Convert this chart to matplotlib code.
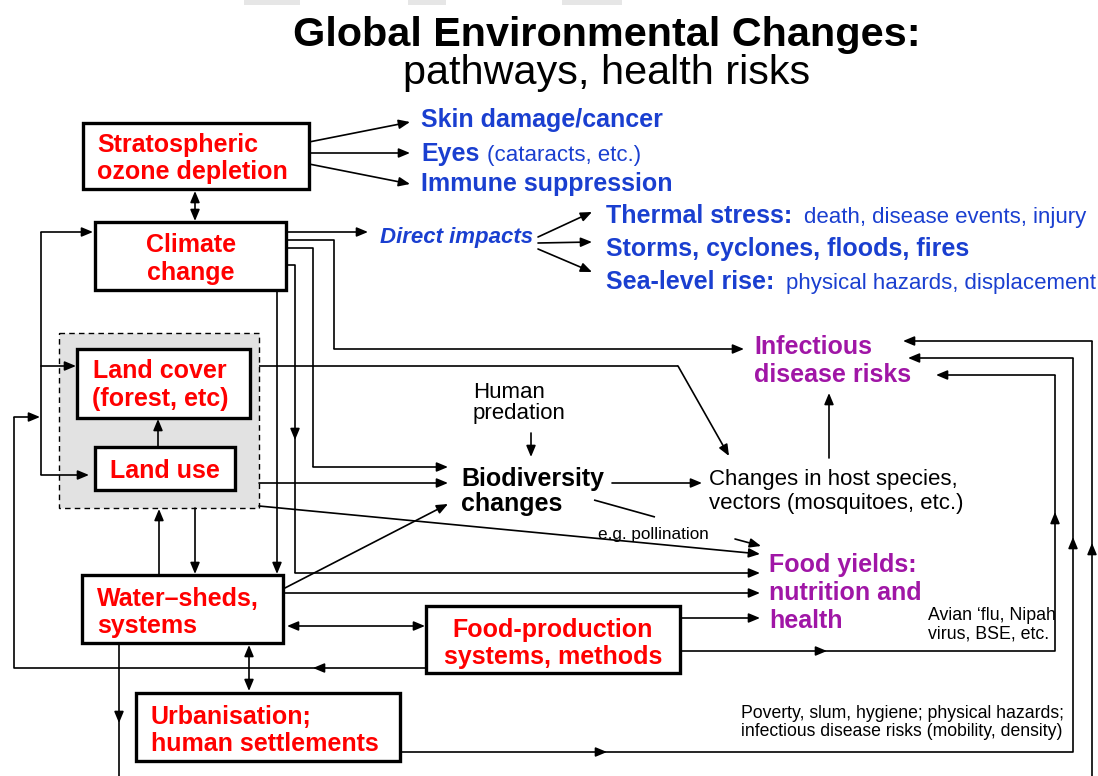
import matplotlib
matplotlib.use('Agg')
import matplotlib.pyplot as plt
from matplotlib.patches import Rectangle

plt.rcParams['font.family'] = ['Liberation Sans', 'DejaVu Sans']

# -------------------------------------------------------------------------------
# Diagram content
# -------------------------------------------------------------------------------
title_lines = ['Global Environmental Changes:', 'pathways, health risks']

driver_labels = ['Stratospheric\nozone depletion', 'Climate\nchange', 'Land cover\n(forest, etc)',
                 'Land use', 'Water\u2013sheds,\nsystems', 'Food-production\nsystems, methods',
                 'Urbanisation;\nhuman settlements']

ozone_effects = ['Skin damage/cancer', 'Eyes', 'Immune suppression']
ozone_notes = ['', '(cataracts, etc.)', '']

direct_label = 'Direct impacts'
direct_effects = ['Thermal stress:', 'Storms, cyclones, floods, fires', 'Sea-level rise:']
direct_notes = ['death, disease events, injury', '', 'physical hazards, displacement']

outcome_labels = ['Infectious\ndisease risks', 'Food yields:\nnutrition and\nhealth']
middle_labels = ['Biodiversity\nchanges', 'Changes in host species,\nvectors (mosquitoes, etc.)',
                 'Human\npredation', 'e.g. pollination']
side_notes = ['Avian \u2018flu, Nipah\nvirus, BSE, etc.',
              'Poverty, slum, hygiene; physical hazards;\ninfectious disease risks (mobility, density)']

RED = '#ff0000'
BLUE = '#1a3fd0'
PURPLE = '#a016a6'
LW = 1.2
DY = 2  # text baseline nudge


# -------------------------------------------------------------------------------
# Helpers (pixel coordinates, y pointing down)
# -------------------------------------------------------------------------------
def arrow_props(style='-|>'):
    return dict(arrowstyle=style + ',head_length=0.48,head_width=0.2', color='black',
                lw=LW, shrinkA=0, shrinkB=0, mutation_scale=14)


def path(ax, pts, arrow=True):
    xs = [p[0] for p in pts]
    ys = [p[1] for p in pts]
    if arrow:
        ax.plot(xs[:-1], ys[:-1], color='black', lw=LW, solid_capstyle='butt')
        ax.annotate('', xy=pts[-1], xytext=pts[-2], arrowprops=arrow_props())
    else:
        ax.plot(xs, ys, color='black', lw=LW, solid_capstyle='butt')


def both(ax, p0, p1):
    ax.annotate('', xy=p1, xytext=p0, arrowprops=arrow_props('<|-|>'))


def head(ax, x, y, dx, dy):
    ax.annotate('', xy=(x, y), xytext=(x - dx * 10, y - dy * 10), arrowprops=arrow_props())


def box(ax, x0, y0, x1, y1):
    ax.add_patch(Rectangle((x0, y0), x1 - x0, y1 - y0, fc='white', ec='black', lw=2.4, zorder=2))


def lines(ax, x, ys, label, **kw):
    for y, s in zip(ys, label.split('\n')):
        ax.text(x, y + DY, s, va='center', zorder=3, **kw)


fig = plt.figure(figsize=(10.98, 7.76), dpi=100)
ax = fig.add_axes([0, 0, 1, 1])
ax.set_xlim(0, 1098)
ax.set_ylim(776, 0)
ax.axis('off')

# faint shapes cut off at the top edge
for x0, x1 in [(244, 300), (408, 446), (562, 622)]:
    ax.add_patch(Rectangle((x0, 0), x1 - x0, 5, fc='#e6e6e6', ec='none'))

# title
ax.text(607, 35, title_lines[0], ha='center', va='center', fontsize=29.8, fontweight='bold')
ax.text(607, 73, title_lines[1], ha='center', va='center', fontsize=29.8)

# grey land group
ax.add_patch(Rectangle((59, 333), 200, 175, fc='#e2e2e2', ec='black', lw=1.0, ls=(0, (4, 3)), zorder=1))

# boxes
box(ax, 83, 123, 309, 189)
box(ax, 95, 222, 286, 290)
box(ax, 77, 349, 250, 418)
box(ax, 95, 447, 235, 490)
box(ax, 82, 575, 283, 643)
box(ax, 426, 606, 680, 673)
box(ax, 136, 693, 400, 761)

bk = dict(color=RED, fontsize=18, fontweight='bold')
lines(ax, 97, [143, 170], driver_labels[0], **bk)
lines(ax, 191, [243, 271], driver_labels[1], ha='center', **bk)
lines(ax, 160, [369, 397], driver_labels[2], ha='center', **bk)
lines(ax, 165, [469], driver_labels[3], ha='center', **bk)
lines(ax, 97, [597, 624], driver_labels[4], **bk)
lines(ax, 553, [628, 655], driver_labels[5], ha='center', **bk)
lines(ax, 151, [715, 742], driver_labels[6], **bk)

# ozone effects
for y, lab in zip([118, 152, 182], ozone_effects):
    ax.text(421, y + DY, lab, color=BLUE, fontsize=18, fontweight='bold', va='center')
ax.text(487, 153 + DY, ozone_notes[1], color=BLUE, fontsize=16, va='center')

# direct impacts
ax.text(380, 235 + DY, direct_label, color=BLUE, fontsize=16, fontweight='bold', style='italic',
        va='center')
for y, lab in zip([214, 247, 280], direct_effects):
    ax.text(606, y + DY, lab, color=BLUE, fontsize=18, fontweight='bold', va='center')
ax.text(804, 215 + DY, direct_notes[0], color=BLUE, fontsize=16, va='center')
ax.text(786, 281 + DY, direct_notes[2], color=BLUE, fontsize=16, va='center')

# outcomes
lines(ax, 754, [345, 373], outcome_labels[0], color=PURPLE, fontsize=18, fontweight='bold')
lines(ax, 769, [563, 591, 619], outcome_labels[1], color=PURPLE, fontsize=18, fontweight='bold')

# middle
lines(ax, 461, [477, 502], middle_labels[0], fontsize=18, fontweight='bold')
lines(ax, 709, [477, 501], middle_labels[1], fontsize=16)
lines(ax, 473, [390, 412], middle_labels[2], fontsize=16)
ax.text(598, 533 + DY, middle_labels[3], fontsize=12.3, va='center')
lines(ax, 928, [614, 632], side_notes[0], fontsize=12.8)
lines(ax, 741, [711, 729], side_notes[1], fontsize=12.7)

# ozone connectors
path(ax, [(309, 142), (410, 122)])
path(ax, [(309, 153), (410, 153)])
path(ax, [(309, 164), (410, 184)])
both(ax, (195, 191), (195, 221))

# climate connectors
path(ax, [(286, 232), (368, 232)])
path(ax, [(286, 240), (334, 240), (334, 349), (744, 349)])
path(ax, [(286, 248), (313, 248), (313, 467), (448, 467)])
path(ax, [(286, 265), (295, 265), (295, 573), (760, 573)])
head(ax, 295, 440, 0, 1)
path(ax, [(277, 291), (277, 574)])

# direct impact fan
path(ax, [(538, 237), (592, 212)])
path(ax, [(538, 243), (592, 242)])
path(ax, [(538, 249), (592, 272)])

# left feedback loops
path(ax, [(41, 475), (41, 232), (93, 232)])
path(ax, [(41, 366), (76, 366)])
path(ax, [(41, 475), (89, 475)])
path(ax, [(426, 668), (14, 668), (14, 417), (40, 417)])
head(ax, 313, 668, -1, 0)

# land group connectors
path(ax, [(158, 447), (158, 419)])
path(ax, [(159, 575), (159, 509)])
path(ax, [(195, 508), (195, 574)])
path(ax, [(259, 366), (678, 366), (729, 456)])
path(ax, [(259, 483), (448, 483)])
path(ax, [(259, 506), (760, 554)])

# biodiversity / host species
path(ax, [(612, 483), (702, 483)])
path(ax, [(594, 500), (655, 517)], arrow=False)
path(ax, [(735, 539), (761, 546)])
path(ax, [(531, 433), (531, 457)])
path(ax, [(829, 458), (829, 393)])

# water-sheds connectors
path(ax, [(283, 589), (448, 504)])
path(ax, [(283, 593), (760, 593)])
both(ax, (287, 626), (425, 626))
both(ax, (249, 645), (249, 691))
path(ax, [(119, 643), (119, 790)], arrow=False)
head(ax, 119, 723, 0, 1)

# food production / urbanisation / bottom returns to infectious disease
path(ax, [(680, 618), (760, 618)])
path(ax, [(680, 651), (1055, 651), (1055, 375), (936, 375)])
head(ax, 827, 651, 1, 0)
head(ax, 1055, 512, 0, -1)
path(ax, [(400, 752), (1073, 752), (1073, 358), (908, 358)])
head(ax, 607, 752, 1, 0)
head(ax, 1073, 537, 0, -1)
path(ax, [(119, 779), (1092, 779), (1092, 341), (903, 341)])
head(ax, 600, 778, 1, 0)
head(ax, 1092, 543, 0, -1)

fig.savefig('out.png', dpi=100)
